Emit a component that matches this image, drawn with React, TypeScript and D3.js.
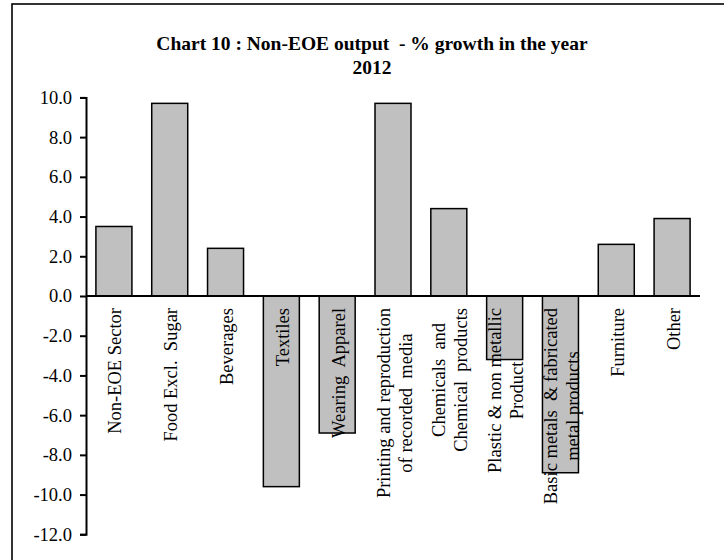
import React, { useEffect, useRef } from 'react';
import * as d3 from 'd3';

// category labels (one entry per line of the wrapped label)
const categories: string[][] = [
  ['Non-EOE Sector'],
  ['Food Excl.  Sugar'],
  ['Beverages'],
  ['Textiles'],
  ['Wearing  Apparel'],
  ['Printing and reproduction', 'of recorded  media'],
  ['Chemicals  and', 'Chemical  products'],
  ['Plastic & non metallic', 'Product'],
  ['Basic metals  & fabricated', 'metal products'],
  ['Furniture'],
  ['Other'],
];

// % growth in 2012
const growth: number[] = [3.5, 9.7, 2.4, -9.6, -6.9, 9.7, 4.4, -3.2, -8.9, 2.6, 3.9];

const yTicks: number[] = [10, 8, 6, 4, 2, 0, -2, -4, -6, -8, -10, -12];

const titleLines: string[] = ['Chart 10 : Non-EOE output  - % growth in the year', '2012'];

export default function App() {
  const ref = useRef<SVGSVGElement>(null);

  useEffect(() => {
    const svg = d3.select(ref.current);
    svg.selectAll('*').remove();

    const width = 724, height = 560;
    const font = '"Liberation Serif", "Times New Roman", serif';
    const fs = 18.5;

    // outer frame (right/bottom edges fall outside the picture)
    svg.append('rect')
      .attr('x', 12).attr('y', 4)
      .attr('width', width + 20).attr('height', height + 20)
      .attr('fill', 'white')
      .attr('stroke', 'black')
      .attr('stroke-width', 1.6);

    const x = d3.scaleBand<number>()
      .domain(d3.range(categories.length))
      .range([86, 700])
      .paddingInner(0.355)
      .paddingOuter(0.1775);

    const y = d3.scaleLinear().domain([-12, 10]).range([534.3, 97.4]);

    // title
    svg.append('text')
      .attr('x', 372).attr('y', 50)
      .attr('text-anchor', 'middle')
      .style('font-family', font)
      .style('font-weight', 'bold')
      .style('font-size', '19.5px')
      .style('white-space', 'pre')
      .selectAll('tspan')
      .data(titleLines)
      .enter().append('tspan')
      .attr('x', 372)
      .attr('dy', (d, i) => (i === 0 ? 0 : 24))
      .text(d => d);

    // y axis (plain hyphen for negatives, like the original)
    const yAxis = d3.axisLeft(y)
      .tickValues(yTicks)
      .tickFormat(d => (+d).toFixed(1))
      .tickSize(6)
      .tickPadding(8);
    const ag = svg.append('g')
      .attr('transform', 'translate(86,0)')
      .call(yAxis);
    ag.select('.domain').attr('stroke', 'black').attr('stroke-width', 2);
    ag.selectAll('.tick line').attr('stroke', 'black').attr('stroke-width', 2);
    ag.selectAll('.tick text')
      .attr('fill', 'black')
      .style('font-family', font)
      .style('font-size', fs + 'px');

    // bars
    svg.append('g')
      .selectAll('rect')
      .data(growth)
      .enter().append('rect')
      .attr('x', (d, i) => x(i)!)
      .attr('y', d => y(Math.max(0, d)))
      .attr('width', x.bandwidth())
      .attr('height', d => Math.abs(y(d) - y(0)))
      .attr('fill', '#c0c0c0')
      .attr('stroke', 'black')
      .attr('stroke-width', 1.5);

    // zero line
    svg.append('line')
      .attr('x1', 86).attr('x2', 700)
      .attr('y1', y(0)).attr('y2', y(0))
      .attr('stroke', 'black')
      .attr('stroke-width', 2);

    // category labels, rotated, top aligned just below the zero line
    const labelTop = y(0) + 12;
    const lineGap = 22;
    categories.forEach((lines, i) => {
      const cx = x(i)! + x.bandwidth() / 2 + 1.5;
      const g = svg.append('g');
      const texts = lines.map(line =>
        g.append('text')
          .attr('text-anchor', 'middle')
          .attr('fill', 'black')
          .style('font-family', font)
          .style('font-size', fs + 'px')
          .style('white-space', 'pre')
          .text(line)
      );
      const lens = texts.map(t => (t.node() as SVGTextElement).getComputedTextLength());
      const maxLen = d3.max(lens) || 0;
      const cy = labelTop + maxLen / 2;
      texts.forEach((t, j) => {
        const off = (j - (lines.length - 1) / 2) * lineGap;
        t.attr('transform', `translate(${cx + off + 6},${cy}) rotate(-90)`);
      });
    });
  }, []);

  return (
    <svg
      ref={ref}
      width={724}
      height={560}
      style={{ position: 'absolute', left: 0, top: 0, background: 'white' }}
    />
  );
}
